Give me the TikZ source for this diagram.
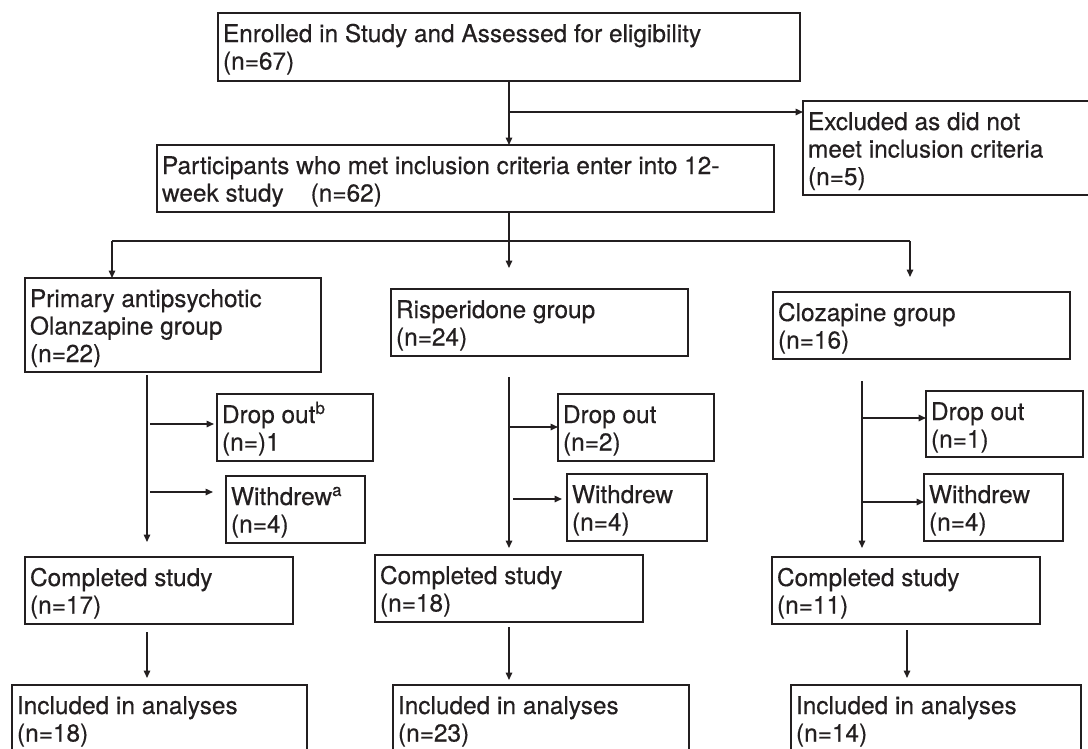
\documentclass[tikz,border=0pt]{standalone}
\usepackage{fontspec}
\setmainfont{TeX Gyre Heros}[FakeBold=0.35]
\usetikzlibrary{arrows.meta}
\definecolor{ink}{HTML}{231F20}
\tikzset{
  box/.style={draw=ink, line width=1.8pt, anchor=north west, inner sep=0pt, outer sep=0pt,
    text=ink, font=\fontsize{24.4}{27.5}\selectfont},
  conn/.style={draw=ink, line width=1.5pt},
  arr/.style={conn, -{Triangle[length=7.5pt,width=6.5pt]}},
}
\newcommand\bx[6]{\node[box] (#1) at (#2,#3)
  {\parbox[t][#5pt][t]{#4pt}{\raggedright\leftskip=5pt\rule{0pt}{29pt}#6}};}
\begin{document}
\begin{tikzpicture}[x=1pt,y=-1pt]
\useasboundingbox (0,0) rectangle (1088,748);
\fill[white] (0,0) rectangle (1088,748);
\clip (0,0) rectangle (1088,748);

% boxes
\bx{enr}{218}{13}{582}{68}{Enrolled in Study and Assessed for eligibility\\(n=67)}
\bx{excl}{803}{101}{300}{94}{Excluded as did not\\meet inclusion criteria\\(n=5)}
\bx{part}{157}{145}{617}{67}{Participants who met inclusion criteria enter into 12-\\week study\hspace{27pt}(n=62)}
\bx{olz}{25}{278}{296}{94}{Primary antipsychotic\\Olanzapine group\\(n=22)}
\bx{risp}{391}{289}{297}{67}{Risperidone group\\(n=24)}
\bx{cloz}{773}{292}{297}{67}{Clozapine group\\(n=16)}
\bx{olzd}{217}{394}{156}{67}{Drop out\textsuperscript{b}\\(n=)1}
\bx{olzw}{226}{476}{139}{67}{Withdrew\textsuperscript{a}\\(n=4)}
\bx{olzc}{25}{557}{268}{67}{Completed study\\(n=17)}
\bx{olzi}{12}{685}{295}{90}{Included in analyses\\(n=18)}
\bx{rispd}{558}{394}{156}{67}{Drop out\\(n=2)}
\bx{rispw}{567}{474}{140}{67}{Withdrew\\(n=4)}
\bx{rispc}{375}{555}{268}{67}{Completed study\\(n=18)}
\bx{rispi}{393}{685}{296}{90}{Included in analyses\\(n=23)}
\bx{clozd}{926}{391}{157}{66}{Drop out\\(n=1)}
\bx{clozw}{924}{474}{139}{67}{Withdrew\\(n=4)}
\bx{clozc}{772}{557}{268}{67}{Completed study\\(n=11)}
\bx{clozi}{791}{685}{290}{90}{Included in analyses\\(n=14)}

% top part
\coordinate (trunk) at (509,0);
\draw[arr] (enr.south -| trunk) -- (part.north -| trunk);
\coordinate (exb) at (509,112);
\draw[arr] (exb) -- (exb -| excl.west);
\coordinate (rtip) at (509,268);
\draw[arr] (part.south -| trunk) -- (rtip);
\coordinate (hl) at (112,241);
\coordinate (hr) at (910,241);
\draw[conn] (hl) -- (hr);
\draw[arr] (hl) -- (olz.north -| hl);
\coordinate (ctip) at (910,277);
\draw[arr] (hr) -- (ctip);

% olanzapine column
\coordinate (ot) at (147,375); \coordinate (ob) at (147,542);
\draw[arr] (ot) -- (ob);
\coordinate (od) at (150,424); \coordinate (odt) at (214,424);
\draw[arr] (od) -- (odt);
\coordinate (ow) at (150,492); \coordinate (owt) at (213,492);
\draw[arr] (ow) -- (owt);
\coordinate (oc) at (147,632); \coordinate (oct) at (147,678);
\draw[arr] (oc) -- (oct);

% risperidone column
\coordinate (rt) at (509,377); \coordinate (rb) at (509,548);
\draw[arr] (rt) -- (rb);
\coordinate (rd) at (509,427);
\draw[arr] (rd) -- (rd -| rispd.west);
\coordinate (rw) at (513,499); \coordinate (rwt) at (562,499);
\draw[arr] (rw) -- (rwt);
\coordinate (rc) at (509,627); \coordinate (rct) at (509,680);
\draw[arr] (rc) -- (rct);

% clozapine column
\coordinate (ct) at (862,381); \coordinate (cb) at (862,548);
\draw[arr] (ct) -- (cb);
\coordinate (cd) at (863,418);
\draw[arr] (cd) -- (cd -| clozd.west);
\coordinate (cw) at (862,502);
\draw[arr] (cw) -- (cw -| clozw.west);
\coordinate (cc) at (907,630); \coordinate (cct) at (907,678);
\draw[arr] (cc) -- (cct);
\end{tikzpicture}
\end{document}
